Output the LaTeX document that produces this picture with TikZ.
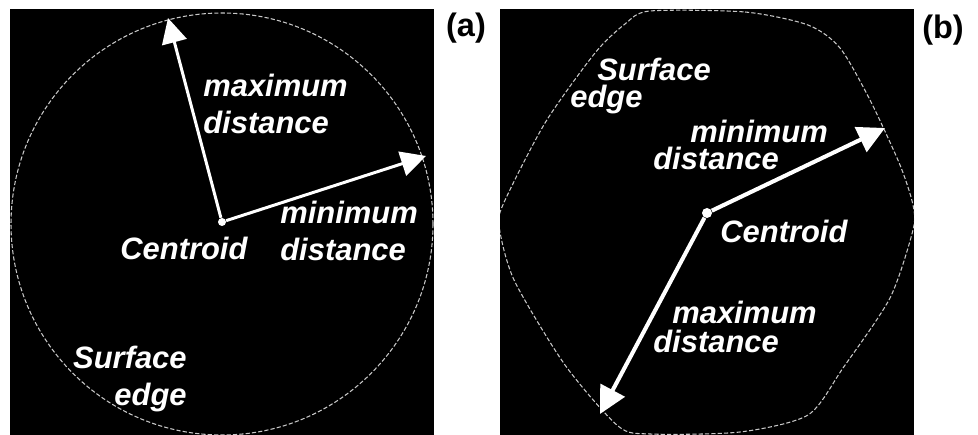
\documentclass[tikz,border=0pt]{standalone}
\usepackage{fontspec}
\setmainfont{Liberation Sans}
\usetikzlibrary{arrows.meta}
\definecolor{edgegray}{HTML}{C8C8C8}

\tikzset{
  panel/.style={fill=black},
  outline/.style={edgegray, line width=0.6pt, dash pattern=on 2.4pt off 1.2pt},
  distarrow/.style={white, line width=1.7pt, -{Triangle[length=0.5cm,width=0.5cm]}},
  distarrowb/.style={white, line width=2.3pt, -{Triangle[length=0.54cm,width=0.54cm]}},
  lbl/.style={text=white, font=\fontsize{17.6}{21}\selectfont\bfseries\itshape,
    inner sep=0pt, align=left},
  tag/.style={font=\fontsize{18.5}{22}\selectfont\bfseries, inner sep=0pt},
  cdot/.style={circle, fill=white, inner sep=0pt, minimum size=#1},
  cdot/.default=0.16cm
}

\begin{document}
\begin{tikzpicture}[x=0.02cm,y=-0.02cm]
  \useasboundingbox[fill=white] (0,0) rectangle (978,435);

  % (a) round surface
  \fill[panel] (10,9) rectangle (434,435);
  \begin{scope}
    \clip (10,9) rectangle (434,435);
    \draw[outline] (222,224) circle (211);
  \end{scope}
  \node[cdot] (ca) at (222,222) {};
  \coordinate (maxtipa) at (168,18);
  \coordinate (mintipa) at (426,156);
  \draw[distarrow] (ca) -- (maxtipa);
  \draw[distarrow] (ca) -- (mintipa);
  \node[lbl, anchor=west] (maxa) at (203,104) {maximum\\distance};
  \node[lbl, anchor=west] (mina) at (280,231) {minimum\\distance};
  \node[lbl, anchor=west] (centa) at (120,248) {Centroid};
  \node[lbl, anchor=east, align=right] (surfa) at (187,379) {Surface\\edge};
  \node[tag] (taga) at (466,28) {(a)};

  % (b) faceted surface
  \fill[panel] (500,9) rectangle (914,435);
  \begin{scope}
    \clip (500,9) rectangle (914,435);
    \draw[outline] plot[smooth cycle, tension=0.45] coordinates
      {(650,11) (745,12) (808,25) (840,48) (870,100) (900,165) (913,205)
       (913,230) (890,298) (843,368) (808,415) (740,432) (650,434)
       (618,426) (565,365) (515,282) (500,232) (502,207) (545,123)
       (595,53) (625,24)};
  \end{scope}
  \node[cdot=0.2cm] (cb) at (707,213) {};
  \coordinate (mintipb) at (885,128);
  \coordinate (maxtipb) at (600,414);
  \draw[distarrowb] (cb) -- (mintipb);
  \draw[distarrowb] (cb) -- (maxtipb);
  \node[lbl, anchor=west] (surfb) at (570,86) {\hspace*{0.54cm}Surface\\[-5.6pt]edge};
  \node[lbl, anchor=west] (minb) at (653,145) {\hspace*{0.74cm}minimum\\[-5.6pt]distance};
  \node[lbl, anchor=west] (centb) at (720,231) {Centroid};
  \node[lbl, anchor=west] (maxb) at (653,327) {\hspace*{0.38cm}maximum\\[-4pt]distance};
  \node[tag] (tagb) at (943,30) {(b)};
\end{tikzpicture}
\end{document}
